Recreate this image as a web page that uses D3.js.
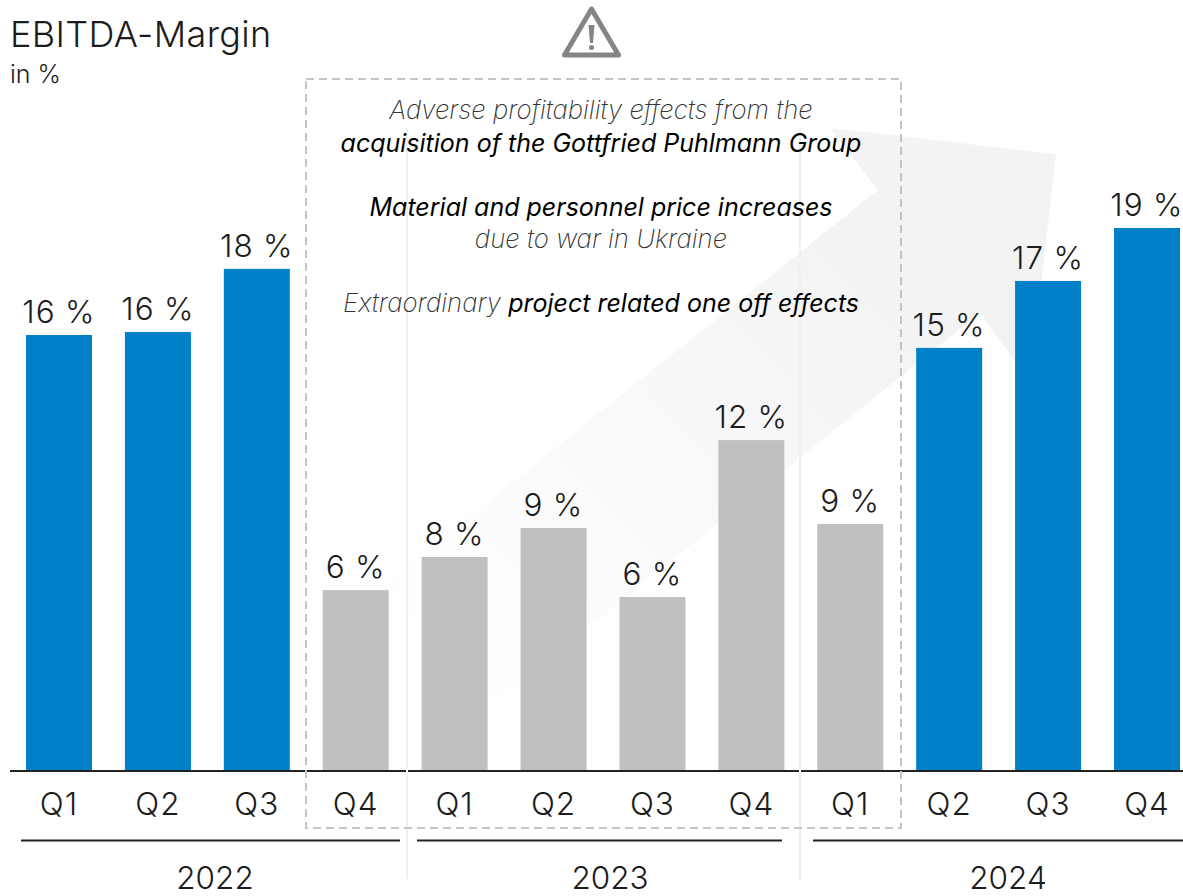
<!DOCTYPE html>
<html><head><meta charset="utf-8">
<script src="https://cdn.jsdelivr.net/npm/d3@7"></script>
<style>html,body{margin:0;padding:0;background:#fff}svg{display:block}text{font-family:"Inter","Noto Sans",sans-serif;font-weight:270;fill:#1c1c1c}</style>
</head><body><svg id="c" width="1183" height="896"></svg>
<script>
const quarters=["Q1","Q2","Q3","Q4","Q1","Q2","Q3","Q4","Q1","Q2","Q3","Q4"];
const keys=d3.range(12);
const values=[16.22,16.33,18.68,6.73,7.96,9.04,6.47,12.31,9.19,15.74,18.23,20.2];
const labels=["16 %","16 %","18 %","6 %","8 %","9 %","6 %","12 %","9 %","15 %","17 %","19 %"];
const highlighted=[1,1,1,0,0,0,0,0,0,1,1,1];
const years=["2022","2023","2024"];
const svg=d3.select("#c");
const x=d3.scaleBand().domain(keys).range([26,1180]).paddingInner(0.3327).paddingOuter(0);
const y=d3.scaleLinear().domain([0,20.2]).range([771,228]);
const g=svg.append("defs").append("linearGradient").attr("id","fade").attr("gradientUnits","userSpaceOnUse")
 .attr("x1",430).attr("y1",680).attr("x2",880).attr("y2",260);
g.append("stop").attr("offset",0).attr("stop-color","#ffffff");
g.append("stop").attr("offset",1).attr("stop-color","#f3f3f3");
svg.append("polygon").attr("fill","url(#fade)")
 .attr("points","830,128 1056,154 1030,382 980,313 483,712 383,586 878,190");
[407,800].forEach(v=>svg.append("line").attr("x1",v).attr("x2",v).attr("y1",128).attr("y2",879).attr("stroke","#f0f0f0").attr("stroke-width",2));
svg.selectAll(".bar").data(keys).join("rect").attr("x",d=>x(d)).attr("width",x.bandwidth())
 .attr("y",d=>y(values[d])).attr("height",d=>y(0)-y(values[d])).attr("fill",d=>highlighted[d]?"#0080c8":"#c0c0c0");
svg.selectAll(".val").data(keys).join("text").attr("x",d=>x(d)+x.bandwidth()/2).attr("y",d=>y(values[d])-12)
 .attr("text-anchor","middle").attr("font-size",31.5).attr("letter-spacing",1.2).attr("word-spacing",-1).text(d=>labels[d]);
svg.selectAll(".q").data(keys).join("text").attr("x",d=>x(d)+x.bandwidth()/2).attr("y",815)
 .attr("text-anchor","middle").attr("font-size",31.5).attr("letter-spacing",1).text(d=>quarters[d]);
svg.append("line").attr("x1",10).attr("x2",1183).attr("y1",771).attr("y2",771).attr("stroke","#222").attr("stroke-width",2);
[407,800].forEach(v=>svg.append("line").attr("x1",v).attr("x2",v).attr("y1",768).attr("y2",774).attr("stroke","#fff").attr("stroke-width",2));
[[21,400],[417,782],[813,1183]].forEach((s,i)=>{
 svg.append("line").attr("x1",s[0]).attr("x2",s[1]).attr("y1",840.5).attr("y2",840.5).attr("stroke","#222").attr("stroke-width",2);
 svg.append("text").attr("x",i==0?215:i==1?610:1008).attr("y",889).attr("text-anchor","middle").attr("font-size",31.5).text(years[i]);
});
svg.append("rect").attr("x",306).attr("y",79).attr("width",595).attr("height",749).attr("fill","none").attr("stroke","#c4c4c4").attr("stroke-width",2).attr("stroke-dasharray","8 5");
svg.append("text").attr("x",10).attr("y",47).attr("font-size",36).attr("letter-spacing",0.35).text("EBITDA-Margin");
svg.append("text").attr("x",10).attr("y",83).attr("font-size",25).text("in %");
const note=[[["Adverse profitability effects from the",0]],[["acquisition of the Gottfried Puhlmann Group",1]],[["Material and personnel price increases",1]],[["due to war in Ukraine",0]],[["Extraordinary ",0],["project related one off effects",1]]];
const noteY=[119,152,216,248,312];
note.forEach((l,i)=>{const t=svg.append("text").attr("x",601).attr("y",noteY[i]).attr("text-anchor","middle").attr("font-style","italic");
 l.forEach(p=>t.append("tspan").text(p[0]).style("font-size",p[1]?"25px":"25.8px").style("font-weight",p[1]?400:200).style("fill",p[1]?"#000":"#333"));});
const w=svg.append("g").attr("stroke","#858585").attr("fill","none");
w.append("path").attr("d","M591.5 9 L618.5 55 L564.5 55 Z").attr("stroke-width",5).attr("stroke-linejoin","round");
w.append("path").attr("d","M588.5 25 h6 l-1.5 18 h-3 Z").attr("fill","#858585").attr("stroke","none");
w.append("circle").attr("cx",591.5).attr("cy",47.5).attr("r",2.5).attr("fill","#858585").attr("stroke","none");
</script></body></html>
